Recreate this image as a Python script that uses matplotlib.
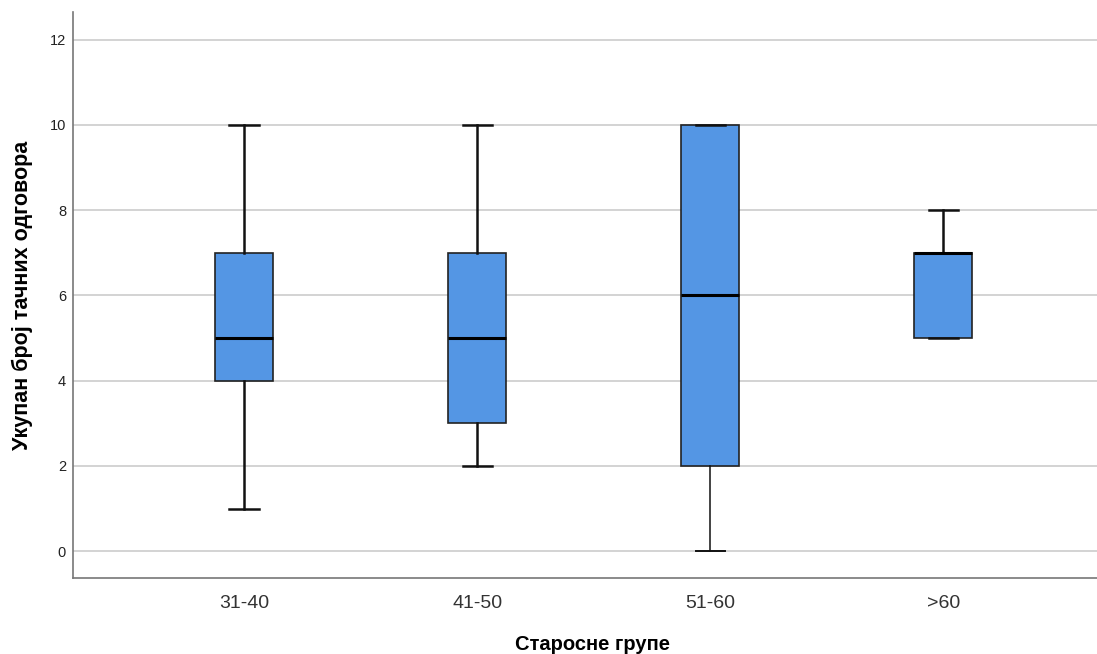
import matplotlib.pyplot as plt

plt.rcParams['font.family'] = ['Liberation Sans', 'DejaVu Sans']

groups = ['31-40', '41-50', '51-60', '>60']
whislo = [1, 2, 0, 5]
q1 = [4, 3, 2, 5]
med = [5, 5, 6, 7]
q3 = [7, 7, 10, 7]
whishi = [10, 10, 10, 8]

stats = [dict(label=g, whislo=lo, q1=a, med=m, q3=b, whishi=hi)
         for g, lo, a, m, b, hi in zip(groups, whislo, q1, med, q3, whishi)]

fig = plt.figure(figsize=(10.97, 6.54), dpi=100)
ax = fig.add_axes([0.0665, 0.1162, 0.9335, 0.8655])

ax.yaxis.grid(True, color='#cccccc', linewidth=1.2)
ax.set_axisbelow(True)

bp = ax.bxp(stats, positions=range(len(groups)), widths=0.25, patch_artist=True,
            showfliers=False,
            boxprops=dict(facecolor='#5496e4', edgecolor='#222222', linewidth=1.2),
            medianprops=dict(color='black', linewidth=2.2),
            whiskerprops=dict(color='#111111', linewidth=1.8),
            capprops=dict(color='#111111', linewidth=1.8),
            capwidths=0.125)
# lower whisker of 51-60 is drawn thinner in the original
bp['whiskers'][4].set_linewidth(1.1)
bp['caps'][4].set_linewidth(1.4)

ax.set_xlim(-0.734, 3.66)
ax.set_ylim(-0.63, 12.65)
ax.set_yticks(range(0, 13, 2))
ax.tick_params(axis='y', length=0, labelsize=10.5, pad=5, labelcolor='#222222')
ax.tick_params(axis='x', length=0, labelsize=14, pad=12, labelcolor='#333333')

for s in ['top', 'right']:
    ax.spines[s].set_visible(False)
for s in ['left', 'bottom']:
    ax.spines[s].set_color('#777777')
    ax.spines[s].set_linewidth(1.2)

ax.set_xlabel('Старосне групе', fontsize=14.5, fontweight='bold')
ax.set_ylabel('Укупан број тачних одговора', fontsize=15.5, fontweight='bold')
ax.xaxis.set_label_coords(0.507, -0.101)
ax.yaxis.set_label_coords(-0.039, 0.5)

fig.savefig('out.png', dpi=100)
